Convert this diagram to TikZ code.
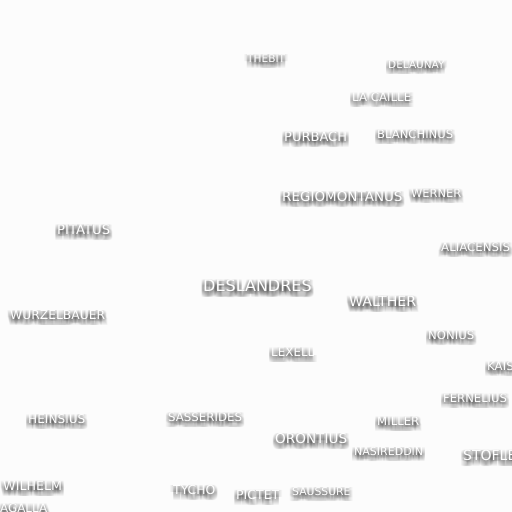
\documentclass[tikz,border=0pt]{standalone}
\usepackage{fontspec}
\setmainfont{DejaVu Sans}
\definecolor{moonbg}{RGB}{252,252,252}
\tikzset{
  crater/.style={anchor=west, inner sep=0pt, text=white},
  cratershadow/.style={anchor=west, inner sep=0pt, text=black, text opacity=0.03}
}
\begin{document}
\begin{tikzpicture}[x=1pt,y=-1pt]
  \useasboundingbox (0,0) rectangle (512,512);
  \clip (0,0) rectangle (512,512);
  \fill[moonbg] (0,0) rectangle (512,512);
  % crater names: name/left x/centre y/size/text
  \foreach \n/\x/\y/\s/\t in {
      thebit/247/59/10.6/THEBIT,
      delaunay/388/65/10.5/DELAUNAY,
      lacaille/352/97/11.8/LA CAILLE,
      purbach/284/137/13/PURBACH,
      blanchinus/377/134/11.6/BLANCHINUS,
      regiomontanus/282/197/13.5/REGIOMONTANUS,
      werner/411/193/11.4/WERNER,
      pitatus/57/230/13.2/PITATUS,
      aliacensis/441/247/11.8/ALIACENSIS,
      deslandres/203/286/16/DESLANDRES,
      walther/349/301/14.2/WALTHER,
      wurzelbauer/10/315/12.3/WURZELBAUER,
      nonius/428/335/11.7/NONIUS,
      lexell/271/352/11.9/LEXELL,
      kaiser/487/366/11.8/KAISER,
      fernelius/443/398/11.6/FERNELIUS,
      heinsius/28/419/12.1/HEINSIUS,
      sasserides/168/417/11.8/SASSERIDES,
      miller/377/421/11.7/MILLER,
      orontius/275/439/13.6/ORONTIUS,
      nasireddin/354/451/11/NASIREDDIN,
      stofler/463/455/14/STOFLER,
      wilhelm/3/486/12.7/WILHELM,
      tycho/173/490/12.4/TYCHO,
      pictet/236/495/12.5/PICTET,
      saussure/292/492/10.8/SAUSSURE,
      agalla/0/508/11.9/AGALLA}{
    % soft shadow below each name
    \foreach \i in {-3,...,3}
      \foreach \j in {0,...,6}
        \node[cratershadow, font=\fontsize{\s}{\s}\selectfont]
          (\n-sh\i\j) at (\x+\i,\y+\j) {\t};
    \node[crater, font=\fontsize{\s}{\s}\selectfont] (\n) at (\x,\y) {\t};
  }
\end{tikzpicture}
\end{document}
